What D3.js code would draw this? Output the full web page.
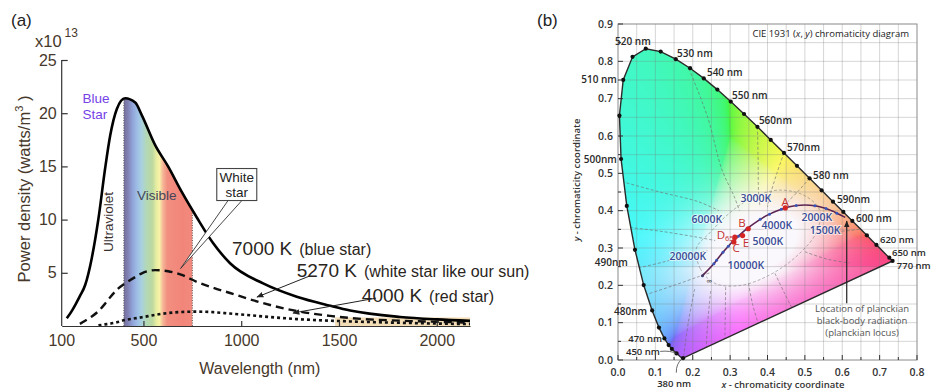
<!DOCTYPE html>
<html><head><meta charset="utf-8">
<script src="https://cdn.jsdelivr.net/npm/d3@7/dist/d3.min.js"></script>
<style>
html,body{margin:0;padding:0;background:#fff;}
svg{display:block;}
</style></head>
<body>
<svg id="chart" width="934" height="391"></svg>
<script>
// ================= Panel (a) data =================
const wavelengthNm = [108,130,151,175,202,236,270,304,330,364,406,458,492,560,626,696,773,856,943,1112,1284,1455,1557,1812,2000,2170];
const power7000K  = [0.72,1.3,1.97,2.8,3.85,6.4,10.1,14.8,17.9,20.4,21.4,21.0,19.8,17.0,15.0,12.6,10.2,7.8,5.9,4.0,2.75,1.9,1.45,0.85,0.62,0.48];
const power5270K  = [null,null,null,0.2,0.5,0.9,1.4,2.1,2.7,3.4,4.0,4.6,4.95,5.25,5.15,4.8,4.15,3.6,3.1,2.15,1.4,0.95,0.75,0.5,0.4,0.32];
const power4000K  = [null,null,null,null,null,null,0.06,0.15,0.22,0.35,0.56,0.72,0.82,1.05,1.22,1.32,1.35,1.3,1.17,0.9,0.65,0.5,0.43,0.3,0.23,0.18];
const xTickValues = [100, 500, 1000, 1500, 2000];
const yTickValues = [5, 10, 15, 20, 25];
const visibleBandNm = [400, 750];
const spectrumStopNm = [400, 420, 445, 470, 492, 515, 545, 568, 582, 600, 622, 700, 750];
const spectrumStopColor = ["#76709c","#7f80b2","#91a4da","#9fc0e6","#a9d1de","#b3d8b6","#bcd9a0","#eaeea2","#f8f2a8","#f5b596","#f28f80","#f2857a","#f28a7e"];

// ================= Panel (b) data =================
const locusNm = [380,390,400,410,420,430,440,445,450,455,460,465,470,475,480,485,490,495,500,505,510,515,520,525,530,535,540,545,550,555,560,565,570,575,580,585,590,595,600,605,610,615,620,625,630,640,650,660,680,700,770];
const locusX  = [0.1741,0.1738,0.1733,0.1726,0.1714,0.1689,0.1644,0.1611,0.1566,0.1510,0.1440,0.1355,0.1241,0.1096,0.0913,0.0687,0.0454,0.0235,0.0082,0.0039,0.0139,0.0389,0.0743,0.1142,0.1547,0.1929,0.2296,0.2658,0.3016,0.3373,0.3731,0.4087,0.4441,0.4788,0.5125,0.5448,0.5752,0.6029,0.6270,0.6482,0.6658,0.6801,0.6915,0.7006,0.7079,0.7190,0.7260,0.7300,0.7334,0.7347,0.7347];
const locusY  = [0.0050,0.0049,0.0048,0.0048,0.0051,0.0069,0.0109,0.0138,0.0177,0.0227,0.0297,0.0399,0.0578,0.0868,0.1327,0.2007,0.2950,0.4127,0.5384,0.6548,0.7502,0.8120,0.8338,0.8262,0.8059,0.7816,0.7543,0.7243,0.6923,0.6589,0.6245,0.5896,0.5547,0.5202,0.4866,0.4544,0.4242,0.3965,0.3725,0.3514,0.3340,0.3197,0.3083,0.2993,0.2920,0.2809,0.2740,0.2700,0.2666,0.2653,0.2653];
const dottedNm = [380,450,460,465,470,475,480,485,490,495,500,505,510,515,520,525,530,535,540,545,550,555,560,565,570,575,580,585,590,595,600,610,620,650,770];
const nmLabelText = ["520 nm","530 nm","540 nm","550 nm","560nm","570nm","580 nm","590nm","600 nm","620 nm","650 nm","770 nm","510 nm","500nm","490nm","480nm","470 nm","450 nm","380 nm"];
const nmLabelX    = [0.040,0.158,0.238,0.305,0.377,0.452,0.522,0.586,0.637,0.701,0.733,0.746,-0.003,-0.003,-0.062,0.078,0.118,0.112,0.150];
const nmLabelY    = [0.854,0.822,0.769,0.707,0.640,0.568,0.493,0.429,0.380,0.323,0.289,0.254,0.750,0.538,0.262,0.129,0.058,0.023,-0.062];
const nmLabelAnchor = ["middle","start","start","start","start","start","start","start","start","start","start","start","end","end","start","end","end","end","middle"];

const planckTempK = ["∞",20000,15000,10000,8000,7000,6000,5000,4000,3500,3000,2500,2000,1750,1500,1300];
const planckX = [0.226,0.2565,0.2637,0.2807,0.2952,0.3064,0.3221,0.3451,0.3805,0.4053,0.4369,0.4770,0.5267,0.5565,0.5857,0.608];
const planckY = [0.226,0.2577,0.2673,0.2883,0.3048,0.3166,0.3318,0.3516,0.3768,0.3907,0.4041,0.4137,0.4133,0.4055,0.3931,0.382];
const cctLabel  = ["3000K","6000K","4000K","2000K","1500K","5000K","20000K","10000K"];
const cctLabelX = [0.369,0.238,0.425,0.532,0.554,0.401,0.187,0.342];
const cctLabelY = [0.434,0.377,0.362,0.383,0.348,0.319,0.279,0.254];
const illumName = ["A","B","C","D65","E"];
const illumX = [0.4476,0.3484,0.3101,0.3127,0.3333];
const illumY = [0.4074,0.3516,0.3162,0.3290,0.3333];
const illumLabelX = [0.447,0.332,0.316,0.264,0.342];
const illumLabelY = [0.423,0.367,0.300,0.336,0.313];
const isoLines = [
  [[0.19,0.78],[0.24,0.65],[0.278,0.51],[0.31,0.44],[0.325,0.40]],
  [[0.3731,0.6245],[0.375,0.53],[0.376,0.45],[0.38,0.41]],
  [[0.4441,0.5547],[0.425,0.50],[0.406,0.437],[0.40,0.41]],
  [[0.5125,0.4866],[0.48,0.45],[0.455,0.425]],
  [[0.010,0.478],[0.108,0.451],[0.215,0.424],[0.27,0.40]],
  [[0.032,0.355],[0.12,0.344],[0.206,0.330],[0.26,0.32]],
  [[0.028,0.241],[0.12,0.262],[0.206,0.286],[0.24,0.292]],
  [[0.072,0.174],[0.15,0.2],[0.215,0.223],[0.25,0.235]],
  [[0.205,0.19],[0.188,0.10],[0.176,0.012]],
  [[0.248,0.185],[0.24,0.10],[0.236,0.033]],
  [[0.288,0.195],[0.287,0.12],[0.286,0.057]],
  [[0.349,0.205],[0.36,0.15],[0.375,0.098]],
  [[0.42,0.232],[0.445,0.18],[0.465,0.14]],
  [[0.50,0.29],[0.56,0.27],[0.62,0.26]],
  [[0.52,0.36],[0.58,0.345],[0.645,0.35]]
];
const whiteRegion = [[0.21,0.30],[0.22,0.245],[0.26,0.205],[0.33,0.20],[0.41,0.23],[0.48,0.28],[0.53,0.34],[0.54,0.40],[0.50,0.44],[0.43,0.455],[0.36,0.435],[0.30,0.395],[0.245,0.34]];
const xTicksB = [0,0.1,0.2,0.3,0.4,0.5,0.6,0.7,0.8];
const yTicksB = [0,0.1,0.2,0.3,0.4,0.5,0.6,0.7,0.8,0.9];

// ================= Drawing =================
const svg = d3.select('#chart');
const defs = svg.append('defs');
const FA = 'Liberation Sans, Arial, Helvetica, sans-serif';
const FB = 'Open Sans, Lato, sans-serif';
const axisTxt = '#46382a';

// ---------- Panel (a) ----------
const xA = d3.scaleLinear().domain([82, 2170]).range([61.7, 470]);
const yA = d3.scaleLinear().domain([0, 25]).range([326, 60]);
const gA = svg.append('g');

const grad = defs.append('linearGradient').attr('id','spec').attr('gradientUnits','userSpaceOnUse')
  .attr('x1', xA(visibleBandNm[0])).attr('x2', xA(visibleBandNm[1])).attr('y1',0).attr('y2',0);
grad.selectAll('stop').data(spectrumStopNm).join('stop')
  .attr('offset', d => (d - visibleBandNm[0])/(visibleBandNm[1]-visibleBandNm[0]))
  .attr('stop-color', (d,i) => spectrumStopColor[i]);

const pts7000 = wavelengthNm.map((w,i)=>[w, power7000K[i]]);
const pts5270 = wavelengthNm.map((w,i)=>[w, power5270K[i]]);
const pts4000 = wavelengthNm.map((w,i)=>[w, power4000K[i]]);
const areaA = d3.area().x(d=>xA(d[0])).y0(yA(0)).y1(d=>yA(d[1])).curve(d3.curveMonotoneX);
defs.append('clipPath').attr('id','under7000').append('path').attr('d', areaA(pts7000));

gA.append('rect').attr('x', xA(visibleBandNm[0])).attr('y', yA(25))
  .attr('width', xA(visibleBandNm[1]) - xA(visibleBandNm[0])).attr('height', yA(0)-yA(25))
  .attr('fill','url(#spec)').attr('clip-path','url(#under7000)');
gA.selectAll('line.edge').data(visibleBandNm).join('line').attr('class','edge')
  .attr('x1', d=>xA(d)).attr('x2', d=>xA(d)).attr('y1', yA(0)).attr('y2', yA(25))
  .attr('stroke','#555').attr('stroke-width',1).attr('stroke-dasharray','1,1.5')
  .attr('clip-path','url(#under7000)');

// beige strip near baseline
gA.append('rect').attr('x', xA(1480)).attr('y', yA(0.8)).attr('width', xA(2170)-xA(1480)).attr('height', yA(0)-yA(0.8))
  .attr('fill','#f3ddb6');

const lineA = d3.line().defined(d=>d[1]!=null).x(d=>xA(d[0])).y(d=>yA(d[1])).curve(d3.curveMonotoneX);
gA.append('path').attr('d', lineA(pts4000)).attr('fill','none').attr('stroke','#111').attr('stroke-width',2.6).attr('stroke-dasharray','3,3');
gA.append('path').attr('d', lineA(pts5270)).attr('fill','none').attr('stroke','#111').attr('stroke-width',2.4).attr('stroke-dasharray','8,5');
gA.append('path').attr('d', lineA(pts7000)).attr('fill','none').attr('stroke','#000').attr('stroke-width',2.6);

// axes
const axL = d3.axisLeft(yA).tickValues(yTickValues).tickSizeInner(-6).tickSizeOuter(0).tickPadding(5).tickFormat(d3.format('d'));
const gy = gA.append('g').attr('transform',`translate(${xA(82)},0)`).call(axL);
gy.select('.domain').attr('stroke','#333').attr('stroke-width',1.2).attr('d', `M0,${yA(25)}V${yA(0)}`);
gy.selectAll('.tick line').attr('stroke','#333').attr('stroke-width',1.2);
gy.selectAll('.tick text').attr('font-family',FA).attr('font-size',16).attr('fill',axisTxt);

const axB = d3.axisBottom(xA).tickValues(xTickValues).tickSizeInner(-5).tickSizeOuter(0).tickPadding(9).tickFormat(d3.format('d'));
const gx = gA.append('g').attr('transform',`translate(0,${yA(0)})`).call(axB);
gx.select('.domain').attr('stroke','#333').attr('stroke-width',1.2);
gx.selectAll('.tick line').attr('stroke','#333').attr('stroke-width',1.2).attr('opacity', d=> d===100?0:1);
gx.selectAll('.tick text').attr('font-family',FA).attr('font-size',16).attr('fill',axisTxt).attr('dx', d=> d===100? -4:0);

gA.append('text').attr('x',(xA(82)+xA(2170))/2 - 6).attr('y',374).attr('text-anchor','middle')
  .attr('font-family',FA).attr('font-size',16).attr('fill',axisTxt).text('Wavelength (nm)');
const yl = gA.append('text').attr('transform',`translate(30,189) rotate(-90)`).attr('text-anchor','middle')
  .attr('font-family',FA).attr('font-size',16.5).attr('fill',axisTxt);
yl.append('tspan').text('Power density (watts/m');
yl.append('tspan').attr('font-size',11).attr('dy',-7).text('3');
yl.append('tspan').attr('dy',7).text(' )');

const ex = gA.append('text').attr('x',35).attr('y',47).attr('font-family',FA).attr('font-size',16.5).attr('fill',axisTxt);
ex.append('tspan').text('x10');
ex.append('tspan').attr('dx',3).attr('dy',-10).attr('font-size',12).text('13');
svg.append('text').attr('x',11).attr('y',26).attr('font-family',FA).attr('font-size',17).attr('fill','#222').text('(a)');
svg.append('text').attr('x',537).attr('y',26).attr('font-family',FA).attr('font-size',17).attr('fill','#222').text('(b)');

// inner labels
gA.append('text').attr('x',82.5).attr('y',102.5).attr('font-family',FA).attr('font-size',13.5).attr('fill','#7442e6').text('Blue');
gA.append('text').attr('x',82.5).attr('y',118.5).attr('font-family',FA).attr('font-size',13.5).attr('fill','#7442e6').text('Star');
gA.append('text').attr('transform','translate(112.5,222) rotate(-90)').attr('text-anchor','middle')
  .attr('font-family',FA).attr('font-size',13.5).attr('fill','#3a3030').text('Ultraviolet');
gA.append('text').attr('x',137).attr('y',200).attr('font-family',FA).attr('font-size',13.5).attr('fill','#45455a').text('Visible');

// White star callout
const boxX = xA(875), boxY = yA(14.8);
gA.append('polygon').attr('points', `${boxX+12},${boxY+31} ${boxX+26},${boxY+31} ${xA(690)},${yA(5.4)}`)
  .attr('fill','#fff').attr('stroke','#333').attr('stroke-width',0.9);
gA.append('rect').attr('x',boxX).attr('y',boxY).attr('width',40).attr('height',32)
  .attr('fill','#fff').attr('stroke','#444').attr('stroke-width',1.1);
gA.append('text').attr('x',boxX+20).attr('y',boxY+13).attr('text-anchor','middle').attr('font-family',FA).attr('font-size',13.5).attr('fill','#222').text('White');
gA.append('text').attr('x',boxX+20).attr('y',boxY+28.5).attr('text-anchor','middle').attr('font-family',FA).attr('font-size',13.5).attr('fill','#222').text('star');

// series labels
function seriesLabel(lam, v, big, small){
  const t = gA.append('text').attr('x', xA(lam)).attr('y', yA(v)).attr('font-family',FA).attr('fill','#2a2520');
  t.append('tspan').attr('font-size',19).text(big);
  t.append('tspan').attr('font-size',16).attr('dx',7).text(small);
}
seriesLabel(953, 6.65, '7000 K', '(blue star)');
seriesLabel(1284, 4.58, '5270 K', '(white star like our sun)');
seriesLabel(1617, 2.3, '4000 K', '(red star)');

defs.append('marker').attr('id','arrA').attr('viewBox','0 0 10 10').attr('refX',9).attr('refY',5)
  .attr('markerWidth',7).attr('markerHeight',7).attr('orient','auto-start-reverse').attr('markerUnits','userSpaceOnUse')
  .append('path').attr('d','M0,1L10,5L0,9Z').attr('fill','#222');
gA.append('line').attr('x1',xA(1350)).attr('y1',yA(4.7)).attr('x2',xA(1081)).attr('y2',yA(2.72))
  .attr('stroke','#222').attr('stroke-width',1).attr('marker-end','url(#arrA)');
gA.append('line').attr('x1',xA(1690)).attr('y1',yA(2.62)).attr('x2',xA(1265)).attr('y2',yA(1.22))
  .attr('stroke','#222').attr('stroke-width',1).attr('marker-end','url(#arrA)');

// ---------- Panel (b) ----------
const xB = d3.scaleLinear().domain([0, 0.8]).range([618, 917]);
const yB = d3.scaleLinear().domain([0, 0.9]).range([360, 24]);
const gB = svg.append('g');
const locusPts = locusNm.map((n,i)=>[locusX[i], locusY[i]]);
const locusPath = d3.line().x(d=>xB(d[0])).y(d=>yB(d[1])).curve(d3.curveLinearClosed)(locusPts);
defs.append('clipPath').attr('id','gamut').append('path').attr('d', locusPath);

// chromaticity colour fill
(function(){
  const x0 = xB(0), y0 = yB(0.9);
  const cw = Math.round(xB(0.8)-x0), ch = Math.round(yB(0)-y0);
  const cv = document.createElement('canvas'); cv.width = cw; cv.height = ch;
  const ctx = cv.getContext('2d'); const img = ctx.createImageData(cw, ch);
  const gam = v => v <= 0.0031308 ? 12.92*v : 1.055*Math.pow(v,1/2.4) - 0.055;
  const ang = 26*Math.PI/180, ca = Math.cos(ang), sa = Math.sin(ang);
  for (let j=0;j<ch;j++){
    const cy = yB.invert(y0 + j + 0.5);
    for (let i=0;i<cw;i++){
      const cx = xB.invert(x0 + i + 0.5);
      const k = 4*(j*cw+i);
      if (cy <= 0.002){ img.data[k+3]=0; continue; }
      const X = cx/cy, Y = 1, Z = (1-cx-cy)/cy;
      let r = 3.2406*X - 1.5372*Y - 0.4986*Z;
      let g = -0.9689*X + 1.8758*Y + 0.0415*Z;
      let b = 0.0557*X - 0.2040*Y + 1.0570*Z;
      const m = Math.min(r,g,b); if (m<0){ r-=m; g-=m; b-=m; }
      const M = Math.max(r,g,b); r/=M; g/=M; b/=M;
      r = gam(r); g = gam(g); b = gam(b);
      const dx = cx-0.37, dy = cy-0.31;
      const u = (dx*ca + dy*sa)/0.20, v = (-dx*sa + dy*ca)/0.12;
      const base = cy < 0.25 ? 0.36 : 0.26;
      const w = Math.min(1, base + 0.95*Math.exp(-(u*u+v*v)*0.75));
      r = r*(1-w)+w; g = g*(1-w)+w; b = b*(1-w)+w;
      img.data[k] = Math.round(250*r); img.data[k+1] = Math.round(248*g); img.data[k+2] = Math.round(252*b); img.data[k+3] = 255;
    }
  }
  ctx.putImageData(img,0,0);
  gB.append('image').attr('x',x0).attr('y',y0).attr('width',cw).attr('height',ch)
    .attr('href', cv.toDataURL()).attr('clip-path','url(#gamut)').attr('preserveAspectRatio','none');
})();

// dashed iso lines
const lineB = d3.line().x(d=>xB(d[0])).y(d=>yB(d[1])).curve(d3.curveCatmullRom);
const gIso = gB.append('g').attr('clip-path','url(#gamut)');
gIso.selectAll('path.iso').data(isoLines).join('path').attr('class','iso').attr('d', lineB)
  .attr('fill','none').attr('stroke','#6a6a6a').attr('stroke-opacity',0.75).attr('stroke-width',0.8).attr('stroke-dasharray','3,2');
gIso.append('path').attr('d', d3.line().x(d=>xB(d[0])).y(d=>yB(d[1])).curve(d3.curveCatmullRomClosed)(whiteRegion))
  .attr('fill','none').attr('stroke','#6a6a6a').attr('stroke-opacity',0.6).attr('stroke-width',0.8).attr('stroke-dasharray','3,2');

// grid
const gridX = d3.range(1,16).map(i=>i*0.05);
const gridY = d3.range(1,18).map(i=>i*0.05);
gB.selectAll('line.gx').data(gridX).join('line').attr('class','gx')
  .attr('x1',d=>xB(d)).attr('x2',d=>xB(d)).attr('y1',yB(0)).attr('y2',yB(0.9))
  .attr('stroke','#7d7d7d').attr('stroke-opacity',0.42).attr('stroke-width',0.75);
gB.selectAll('line.gy').data(gridY).join('line').attr('class','gy')
  .attr('y1',d=>yB(d)).attr('y2',d=>yB(d)).attr('x1',xB(0)).attr('x2',xB(0.8))
  .attr('stroke','#7d7d7d').attr('stroke-opacity',0.42).attr('stroke-width',0.75);
gB.append('rect').attr('x',xB(0)).attr('y',yB(0.9)).attr('width',xB(0.8)-xB(0)).attr('height',yB(0)-yB(0.9))
  .attr('fill','none').attr('stroke','#8a8a8a').attr('stroke-width',1);

// ticks (inward)
const minorX = d3.range(0,17).map(i=>i*0.05), minorY = d3.range(0,19).map(i=>i*0.05);
gB.selectAll('line.tx').data(minorX).join('line').attr('class','tx')
  .attr('x1',d=>xB(d)).attr('x2',d=>xB(d)).attr('y1',yB(0)).attr('y2',(d,i)=>yB(0)-(i%2?3:5))
  .attr('stroke','#333').attr('stroke-width',1);
gB.selectAll('line.ty').data(minorY).join('line').attr('class','ty')
  .attr('y1',d=>yB(d)).attr('y2',d=>yB(d)).attr('x1',xB(0)).attr('x2',(d,i)=>xB(0)+(i%2?3:5))
  .attr('stroke','#333').attr('stroke-width',1);
gB.selectAll('text.txl').data(xTicksB).join('text').attr('class','txl')
  .attr('x',d=>xB(d)).attr('y',yB(0)+16).attr('text-anchor','middle')
  .attr('font-family',FB).attr('font-size',10.5).attr('font-weight',600).attr('fill','#333').text(d=>d.toFixed(1));
gB.selectAll('text.tyl').data(yTicksB).join('text').attr('class','tyl')
  .attr('x',xB(0)-5).attr('y',d=>yB(d)+3.8).attr('text-anchor','end')
  .attr('font-family',FB).attr('font-size',10.5).attr('font-weight',600).attr('fill','#333').text(d=>d.toFixed(1));

// boundary and wavelength dots
gB.append('path').attr('d', locusPath).attr('fill','none').attr('stroke','#2a2a2a').attr('stroke-width',1.4);
gB.selectAll('circle.wl').data(dottedNm).join('circle').attr('class','wl')
  .attr('cx', d=>xB(locusX[locusNm.indexOf(d)])).attr('cy', d=>yB(locusY[locusNm.indexOf(d)])).attr('r',2.1).attr('fill','#111');

// nm labels
gB.selectAll('text.nml').data(nmLabelText).join('text').attr('class','nml')
  .attr('x',(d,i)=>xB(nmLabelX[i])).attr('y',(d,i)=>yB(nmLabelY[i])+3.4).attr('text-anchor',(d,i)=>nmLabelAnchor[i])
  .attr('font-family',FB).attr('font-size',(d,i)=> (i>=16 || (i>=9 && i<=11)) ? 9.5 : 10).attr('font-weight',600).attr('fill','#2a2a2a').text(d=>d);
// leaders for 450 nm and 380 nm
gB.append('path').attr('d', `M${xB(0.113)},${yB(0.023)} Q${xB(0.14)},${yB(0.026)} ${xB(0.157)},${yB(0.017)}`)
  .attr('fill','none').attr('stroke','#444').attr('stroke-width',0.8);
gB.append('path').attr('d', `M${xB(0.172)},${yB(0.004)} Q${xB(0.155)},${yB(-0.01)} ${xB(0.156)},${yB(-0.034)}`)
  .attr('fill','none').attr('stroke','#444').attr('stroke-width',0.8);

// planckian locus
const planckPts = planckX.map((x,i)=>[x, planckY[i]]);
gB.append('path').attr('d', lineB(planckPts)).attr('fill','none').attr('stroke','#5b2352').attr('stroke-width',1.6);
gB.selectAll('circle.pk').data(planckPts.slice(1,15)).join('circle').attr('class','pk')
  .attr('cx',d=>xB(d[0])).attr('cy',d=>yB(d[1])).attr('r',1.5).attr('fill','#3a56b8');
gB.append('circle').attr('cx',xB(planckX[0])).attr('cy',yB(planckY[0])).attr('r',1.5).attr('fill','#3a3a6a');
gB.append('text').attr('x',xB(planckX[0])+4).attr('y',yB(planckY[0])+8).attr('font-family',FB).attr('font-size',8).attr('fill','#444').text('∞');

// CCT labels
gB.selectAll('text.cct').data(cctLabel).join('text').attr('class','cct')
  .attr('x',(d,i)=>xB(cctLabelX[i])).attr('y',(d,i)=>yB(cctLabelY[i])+3.7).attr('text-anchor','middle')
  .attr('font-family',FB).attr('font-size',10.5).attr('font-weight',600).attr('fill','#3a4c96')
  .attr('stroke','#fff').attr('stroke-width',2).attr('stroke-opacity',0.6).attr('paint-order','stroke').text(d=>d);

// illuminant points
gB.selectAll('circle.il').data(illumName).join('circle').attr('class','il')
  .attr('cx',(d,i)=>xB(illumX[i])).attr('cy',(d,i)=>yB(illumY[i])).attr('r',2.6).attr('fill','#d42424');
illumName.forEach((n,i)=>{
  const t = gB.append('text').attr('x',xB(illumLabelX[i])).attr('y',yB(illumLabelY[i])+4)
    .attr('text-anchor', n==='D65' ? 'start' : 'middle')
    .attr('font-family',FB).attr('font-size',11.5).attr('fill','#c43030');
  if (n==='D65'){ t.append('tspan').text('D'); t.append('tspan').attr('font-size',7.5).attr('dy',2).text('65'); }
  else t.text(n);
});

// planckian locus annotation
defs.append('marker').attr('id','arrB').attr('viewBox','0 0 10 10').attr('refX',9).attr('refY',5)
  .attr('markerWidth',7).attr('markerHeight',8).attr('orient','auto').attr('markerUnits','userSpaceOnUse')
  .append('path').attr('d','M0,1L10,5L0,9Z').attr('fill','#222');
gB.append('line').attr('x1',xB(0.612)).attr('x2',xB(0.612)).attr('y1',yB(0.152)).attr('y2',yB(0.372))
  .attr('stroke','#222').attr('stroke-width',1.2).attr('marker-end','url(#arrB)');
['Location of planckian','black-body radiation','(planckian locus)'].forEach((s,i)=>{
  gB.append('text').attr('x',xB(0.653)).attr('y',yB(0.139)+3.5+i*12.4).attr('text-anchor','middle')
    .attr('font-family',FB).attr('font-size',9.5).attr('fill','#555').text(s);
});

// titles
const tt = gB.append('text').attr('x',909).attr('y',37).attr('text-anchor','end').attr('font-family',FB).attr('font-size',9.5).attr('fill','#222');
tt.append('tspan').text('CIE 1931 (');
tt.append('tspan').attr('font-style','italic').text('x');
tt.append('tspan').text(', ');
tt.append('tspan').attr('font-style','italic').text('y');
tt.append('tspan').text(') chromaticity diagram');
const xt = gB.append('text').attr('x',783).attr('y',388).attr('text-anchor','middle').attr('font-family',FB).attr('font-size',9.5).attr('font-weight',600).attr('fill','#333');
xt.append('tspan').attr('font-style','italic').text('x');
xt.append('tspan').text(' - chromaticity coordinate');
const yt = gB.append('text').attr('transform','translate(580,180) rotate(-90)').attr('text-anchor','middle').attr('font-family',FB).attr('font-size',9.5).attr('font-weight',600).attr('fill','#333');
yt.append('tspan').attr('font-style','italic').text('y');
yt.append('tspan').text(' - chromaticity coordinate');
</script>
</body></html>
